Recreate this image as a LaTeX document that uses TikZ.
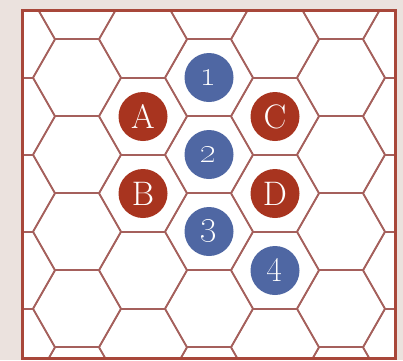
\documentclass[tikz,border=0pt]{standalone}
\usepackage{tikz}
\definecolor{boardbg}{HTML}{EBE2DE}
\definecolor{hexline}{HTML}{A5605C}
\definecolor{framered}{HTML}{A8473A}
\definecolor{stonered}{HTML}{A8341F}
\definecolor{stoneblue}{HTML}{4F67A3}

\begin{document}
\begin{tikzpicture}[
    x=1pt, y=-1pt,
    hexcell/.style={draw=hexline, line width=1.6pt, line join=round},
    board/.style={draw=framered, line width=3pt},
    stone/.style={circle, minimum size=49pt, inner sep=0pt, text=white, font=\fontsize{34}{34}\selectfont},
    redstone/.style={stone, fill=stonered},
    bluestone/.style={stone, fill=stoneblue}
  ]
    \useasboundingbox (0,0) rectangle (403,360);
    \fill[boardbg] (0,0) rectangle (403,360);
    \fill[white] (22.5,10.5) rectangle (395.5,358.5);
    % hex grid, clipped to the board
    \begin{scope}
      \clip (22.5,10.5) rectangle (395.5,358.5);
      \foreach \c in {0,...,6} {
        \pgfmathsetmacro\hx{11+66*\c}
        \pgfmathsetmacro\hy{mod(\c,2)==1 ? 0.5 : 39.5}
        \foreach \k in {-1,...,5} {
          \draw[hexcell] (\hx,\hy+77*\k) ++(-44,0) -- ++(22,-38.5) -- ++(44,0)
            -- ++(22,38.5) -- ++(-22,38.5) -- ++(-44,0) -- cycle;
        }
      }
    \end{scope}
    \draw[board] (22.5,10.5) rectangle (395.5,358.5);
    % stones
    \node[bluestone] (one) at (209,77.5) {\oldstylenums{1}};
    \node[bluestone] (two) at (209,154.5) {\oldstylenums{2}};
    \node[bluestone] (three) at (209,231.5) {\oldstylenums{3}};
    \node[bluestone] (four) at (275,270.5) {\oldstylenums{4}};
    \node[redstone] (stoneA) at (143,116.5) {A};
    \node[redstone] (stoneB) at (143,193.5) {B};
    \node[redstone] (stoneC) at (275,116.5) {C};
    \node[redstone] (stoneD) at (275,193.5) {D};
  \end{tikzpicture}
\end{document}
